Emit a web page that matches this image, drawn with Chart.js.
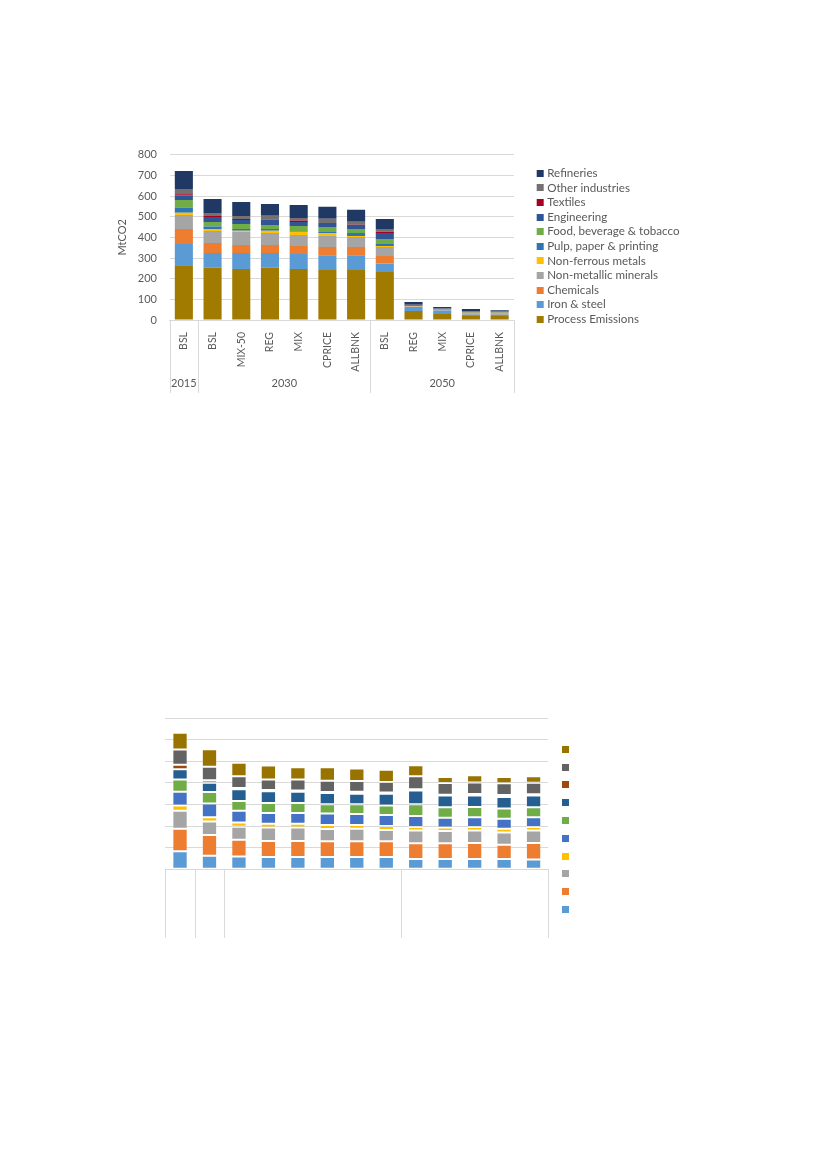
<!DOCTYPE html>
<html>
<head>
<meta charset="utf-8">
<script src="https://cdn.jsdelivr.net/npm/chart.js@4.4.0/dist/chart.umd.min.js"></script>
<style>
  body { margin: 0; background: #fff; }
  .box { position: absolute; }
  #emissionsBox { left: 100px; top: 140px; width: 600px; height: 260px; }
  #energyBox { left: 100px; top: 700px; width: 600px; height: 250px; }
</style>
</head>
<body>
<div class="box" id="emissionsBox"><canvas id="emissionsChart"></canvas></div>
<div class="box" id="energyBox"><canvas id="energyChart"></canvas></div>
<script>
// top chart: industrial CO2 emissions (MtCO2)
const scenarios = ['BSL', 'BSL', 'MIX-50', 'REG', 'MIX', 'CPRICE', 'ALLBNK', 'BSL', 'REG', 'MIX', 'CPRICE', 'ALLBNK'];
const years = ['2015', '2030', '2050'];
const yearSizes = [1, 6, 5];
const yTicks = [0, 100, 200, 300, 400, 500, 600, 700, 800];

const processEmissions = [265, 253, 247, 253, 247, 242, 242, 232, 44, 29, 19, 19];
const ironSteel = [103, 71, 77, 71, 72, 71, 71, 42, 19, 17, 8, 8];
const chemicals = [72, 49, 39, 39, 39, 40, 40, 36, 1, 1, 3, 3];
const nonMetallic = [68, 58, 64, 58, 53, 53, 49, 43, 3, 2, 4, 4];
const nonFerrous = [11, 9, 5, 11, 16, 15, 4, 5, 0.5, 0.3, 0.5, 0.5];
const pulpPaper = [25, 12, 8, 8, 4, 5, 15, 10, 1, 1, 1, 1];
const foodBev = [37, 22, 25, 20, 24, 24, 19, 24, 1, 1, 1, 1];
const engineering = [21, 24, 19, 24, 19, 19, 20, 29, 3, 3, 3, 3];
const textiles = [6, 5, 5, 1, 7, 1, 1, 6, 0.2, 0.2, 0.2, 0.2];
const otherInd = [26, 15, 14, 19, 13, 20, 14, 13, 1.5, 1.5, 2, 2];
const refineries = [87, 68, 68, 58, 62, 58, 58, 49, 13, 7, 11, 6];

// bottom chart: no text shown in the original, same sectors without process emissions
const energyCases = ['BSL', 'BSL', 'BSL', 'MIX-50', 'REG', 'MIX', 'CPRICE', 'ALLBNK', 'BSL', 'REG', 'MIX', 'CPRICE', 'ALLBNK'];
const energySizes = [1, 1, 6, 5];
const eIron = [83, 63, 59, 57, 57, 57, 57, 57, 48, 48, 48, 48, 45];
const eChem = [105, 96, 78, 74, 74, 73, 73, 73, 72, 72, 74, 66, 77];
const eNonMet = [83, 62, 60, 62, 62, 57, 58, 52, 60, 57, 58, 56, 57];
const eNonFer = [24, 20, 19, 18, 18, 18, 17, 18, 16, 16, 16, 18, 17];
const ePulp = [64, 63, 55, 50, 50, 53, 51, 51, 51, 46, 45, 46, 45];
const eFood = [57, 54, 45, 46, 46, 43, 45, 44, 54, 48, 47, 47, 46];
const eEng = [47, 43, 54, 54, 52, 52, 49, 55, 63, 54, 54, 54, 54];
const eTex = [21, 11, 6, 6, 6, 5, 9, 5, 6, 4, 6, 9, 6];
const eOther = [70, 63, 54, 48, 50, 52, 50, 49, 60, 54, 54, 54, 54];
const eRef = [78, 80, 63, 65, 57, 62, 57, 57, 51, 28, 33, 29, 29];

Chart.defaults.font.family = 'Lato, "Open Sans", sans-serif';
Chart.defaults.font.size = 11;
Chart.defaults.color = '#595959';

// excel style two level category axis: separators + group names
const groupAxis = {
  id: 'groupAxis',
  afterDraw(chart, args, opts) {
    const x = chart.scales.x;
    const area = chart.chartArea;
    const c = chart.ctx;
    c.save();
    c.strokeStyle = '#d9d9d9';
    c.lineWidth = 1;
    c.fillStyle = '#595959';
    c.font = '11px Lato, "Open Sans", sans-serif';
    c.textAlign = 'center';
    c.textBaseline = 'middle';
    let start = 0;
    opts.sizes.forEach((n, i) => {
      const left = x.getPixelForValue(start - 0.5);
      const right = x.getPixelForValue(start + n - 0.5);
      c.beginPath();
      c.moveTo(Math.round(left) + 0.5, area.bottom);
      c.lineTo(Math.round(left) + 0.5, x.bottom);
      if (i === opts.sizes.length - 1) {
        c.moveTo(Math.round(right) + 0.5, area.bottom);
        c.lineTo(Math.round(right) + 0.5, x.bottom);
      }
      c.stroke();
      if (opts.names) c.fillText(opts.names[i], (left + right) / 2, x.bottom - 10);
      start += n;
    });
    c.restore();
  }
};

const sideLegend = {
  id: 'sideLegend',
  afterDraw(chart, args, opts) {
    const c = chart.ctx;
    const sets = chart.data.datasets;
    const area = chart.chartArea;
    c.save();
    c.font = '11.6px Lato, "Open Sans", sans-serif';
    c.textBaseline = 'middle';
    for (let k = 0; k < sets.length; k++) {
      const ds = sets[sets.length - 1 - k];
      const y = area.top + opts.top + k * opts.step;
      const x = area.right + opts.gap;
      c.fillStyle = ds.backgroundColor;
      c.fillRect(x, Math.round(y - 3.5), 7, 7);
      if (opts.showText) {
        c.fillStyle = '#595959';
        c.fillText(ds.label, x + 10.5, y);
      }
    }
    c.restore();
  }
};

function series(label, data, color) {
  return { label: label, data: data, backgroundColor: color };
}

new Chart(document.getElementById('emissionsChart'), {
  type: 'bar',
  data: {
    labels: scenarios,
    datasets: [
      series('Process Emissions', processEmissions, '#a07b00'),
      series('Iron & steel', ironSteel, '#5b9bd5'),
      series('Chemicals', chemicals, '#ed7d31'),
      series('Non-metallic minerals', nonMetallic, '#a5a5a5'),
      series('Non-ferrous metals', nonFerrous, '#ffc000'),
      series('Pulp, paper & printing', pulpPaper, '#2e75b6'),
      series('Food, beverage & tobacco', foodBev, '#70ad47'),
      series('Engineering', engineering, '#2f5597'),
      series('Textiles', textiles, '#a50021'),
      series('Other industries', otherInd, '#767171'),
      series('Refineries', refineries, '#203864')
    ]
  },
  options: {
    responsive: true,
    maintainAspectRatio: false,
    animation: false,
    datasets: { bar: { barPercentage: 0.63, categoryPercentage: 1 } },
    layout: { padding: { left: 11.4, top: 14.7, right: 186, bottom: 7 } },
    plugins: {
      legend: { display: false },
      tooltip: { enabled: false },
      groupAxis: { sizes: yearSizes, names: years },
      sideLegend: { top: 18.6, step: 14.6, gap: 22.7, showText: true }
    },
    scales: {
      x: {
        stacked: true,
        grid: { display: false },
        border: { color: '#d9d9d9' },
        ticks: { minRotation: 90, maxRotation: 90, padding: 4, autoSkip: false, font: { size: 10.5 } },
        afterFit: (scale) => { scale.height = 73; }
      },
      y: {
        stacked: true,
        min: 0,
        max: 800,
        afterBuildTicks: (scale) => { scale.ticks = yTicks.map(v => ({ value: v })); },
        grid: { color: '#d9d9d9', drawTicks: true, tickLength: 10.5, tickColor: 'rgba(0,0,0,0)' },
        border: { display: false },
        ticks: { padding: 2 },
        title: { display: true, text: 'MtCO2', font: { size: 11 } },
        afterFit: (scale) => { scale.width = 58.1; }
      }
    }
  },
  plugins: [groupAxis, sideLegend]
});

new Chart(document.getElementById('energyChart'), {
  type: 'bar',
  data: {
    labels: energyCases,
    datasets: [
      series('Iron & steel', eIron, '#5b9bd5'),
      series('Chemicals', eChem, '#ed7d31'),
      series('Non-metallic minerals', eNonMet, '#a5a5a5'),
      series('Non-ferrous metals', eNonFer, '#ffc000'),
      series('Pulp, paper & printing', ePulp, '#4472c4'),
      series('Food, beverage & tobacco', eFood, '#70ad47'),
      series('Engineering', eEng, '#255e91'),
      series('Textiles', eTex, '#9e480e'),
      series('Other industries', eOther, '#636363'),
      series('Refineries', eRef, '#997300')
    ]
  },
  options: {
    responsive: true,
    maintainAspectRatio: false,
    animation: false,
    datasets: {
      bar: {
        barPercentage: 0.52, categoryPercentage: 1,
        borderColor: 'rgba(255,255,255,0.22)', borderWidth: 1, borderSkipped: false
      }
    },
    layout: { padding: { left: 65.3, top: 18, right: 151.7, bottom: 12.3 } },
    plugins: {
      legend: { display: false },
      tooltip: { enabled: false },
      groupAxis: { sizes: energySizes },
      sideLegend: { top: 31.3, step: 17.8, gap: 13.7, showText: false }
    },
    scales: {
      x: {
        stacked: true,
        grid: { display: false },
        border: { color: '#d9d9d9' },
        ticks: { display: false },
        afterFit: (scale) => { scale.height = 68.4; }
      },
      y: {
        stacked: true,
        min: 0,
        max: 700,
        grid: { color: '#d9d9d9', drawTicks: false },
        border: { display: false },
        ticks: { display: false, stepSize: 100 },
        afterFit: (scale) => { scale.width = 0; }
      }
    }
  },
  plugins: [groupAxis, sideLegend]
});
</script>
</body>
</html>
